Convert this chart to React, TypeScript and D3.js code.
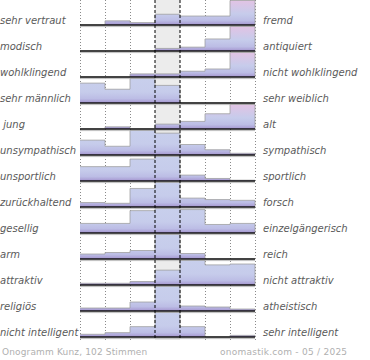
import React from "react";
import * as d3 from "d3";

const leftLabels = [
  "sehr vertraut", "modisch", "wohlklingend", "sehr männlich", " jung",
  "unsympathisch", "unsportlich", "zurückhaltend", "gesellig", "arm",
  "attraktiv", "religiös", "nicht intelligent",
];
const rightLabels = [
  "fremd", "antiquiert", "nicht wohlklingend", "sehr weiblich", "alt",
  "sympathisch", "sportlich", "forsch", "einzelgängerisch", "reich",
  "nicht attraktiv", "atheistisch", "sehr intelligent",
];
// share of votes (%) for the 7 scale steps, per row
const shares: number[][] = [
  [0, 7, 4, 18, 15, 15, 41],
  [0, 0, 0, 6, 9, 28, 57],
  [0, 0, 7, 7, 13, 18, 55],
  [26, 18, 32, 23, 0, 0, 0],
  [0, 4, 0, 9, 14, 28, 45],
  [17, 10, 28, 25, 12, 6, 2],
  [17, 17, 26, 29, 7, 3, 1],
  [6, 5, 25, 33, 12, 10, 9],
  [9, 9, 21, 23, 22, 8, 9],
  [10, 13, 17, 49, 11, 0, 0],
  [2, 2, 4, 17, 28, 23, 24],
  [6, 6, 18, 49, 10, 8, 4],
  [5, 8, 19, 45, 19, 0, 3],
];
const steps = [1, 2, 3, 4, 5, 6, 7];
const footerLeft = "Onogramm Kunz, 102 Stimmen";
const footerRight = "onomastik.com - 05 / 2025";

const W = 370, H = 360;
const font = "'DejaVu Sans', Verdana, sans-serif";

export default function App() {
  const x = d3.scaleBand<number>().domain(steps).range([80, 255]).paddingInner(0).paddingOuter(0);
  const rowY = d3.scaleLinear().domain([0, leftLabels.length - 1]).range([25, 337]);
  const barMax = 24.5;
  const top = 0, bottom = 340;
  const midX0 = x(4)!, midX1 = midX0 + x.bandwidth();

  return (
    <svg width={W} height={H} style={{ position: "absolute", left: 0, top: 0, background: "#fff" }}>
      <defs>
        {shares.map((row, k) => {
          const b = rowY(k);
          const maxIdx = row.indexOf(d3.max(row)!);
          const extreme = maxIdx === 0 || maxIdx === 6;
          return (
            <linearGradient key={k} id={`g${k}`} gradientUnits="userSpaceOnUse" x1={0} x2={0} y1={b - barMax} y2={b}>
              <stop offset="0" stopColor={extreme ? "#e2c3e4" : "#c8cfec"} />
              <stop offset="0.55" stopColor="#c6cceb" />
              <stop offset="0.82" stopColor="#bcbde5" />
              <stop offset="1" stopColor="#a494cf" />
            </linearGradient>
          );
        })}
      </defs>
      {/* middle band */}
      <rect x={midX0} y={top} width={x.bandwidth()} height={bottom - top} fill="#ececec" />
      {/* dotted grid */}
      {[1, 2, 3, 6, 7].map((s) => (
        <line key={s} x1={x(s)! + 0.5} x2={x(s)! + 0.5} y1={top} y2={bottom} stroke="#8a8a8a" strokeWidth={1} strokeDasharray="1,2" />
      ))}
      <line x1={255.5} x2={255.5} y1={top} y2={bottom} stroke="#8a8a8a" strokeWidth={1} strokeDasharray="1,2" />
      {/* rows */}
      {shares.map((row, k) => {
        const b = rowY(k);
        const h = d3.scaleLinear().domain([0, d3.max(row)!]).range([0, barMax]);
        let p = "";
        row.forEach((v, i) => {
          const x0 = x(steps[i])!, x1 = x0 + x.bandwidth();
          const yy = b - h(v);
          p += (i === 0 ? `M${x0},${yy}` : `L${x0},${yy}`) + `L${x1},${yy}`;
        });
        p += `L${x(7)! + x.bandwidth()},${b}`;
        return (
          <g key={k}>
            {row.map((v, i) =>
              v > 0 ? (
                <rect key={i} x={x(steps[i])!} y={b - h(v)} width={x.bandwidth()} height={h(v)} fill={`url(#g${k})`} />
              ) : null
            )}
            <path d={p} fill="none" stroke="#9c9c9c" strokeWidth={1} opacity={0.75} />
            <line x1={80} x2={255} y1={b + 1.6} y2={b + 1.6} stroke="#bdbdbd" strokeWidth={1} />
            <line x1={80} x2={255} y1={b} y2={b} stroke="#111" strokeWidth={1.5} />
            <text x={0} y={b - 1.5} fontFamily={font} fontStyle="italic" fontSize={10} fill="#5a5a5a" style={{ whiteSpace: "pre" }}>{leftLabels[k]}</text>
            <text x={263} y={b - 1.5} fontFamily={font} fontStyle="italic" fontSize={10} fill="#5a5a5a">{rightLabels[k]}</text>
          </g>
        );
      })}
      {/* dashed middle lines */}
      {[midX0, midX1].map((xx, i) => (
        <line key={i} x1={xx} x2={xx} y1={top} y2={bottom} stroke="#000" strokeWidth={1} strokeDasharray="3,2" />
      ))}
      <text x={2} y={355} fontFamily={font} fontSize={9} letterSpacing={0.15} fill="#b0b0b0">{footerLeft}</text>
      <text x={220} y={355} fontFamily={font} fontSize={9} letterSpacing={0.25} fill="#b0b0b0">{footerRight}</text>
    </svg>
  );
}
